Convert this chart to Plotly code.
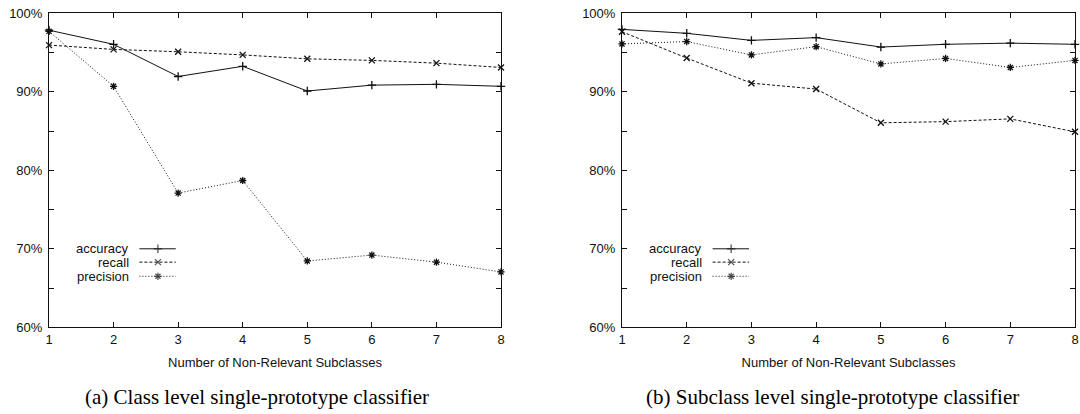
import plotly.graph_objects as go

# ---- data ----
x_subclasses = [1, 2, 3, 4, 5, 6, 7, 8]

class_accuracy = [97.85, 96.05, 91.95, 93.25, 90.1, 90.85, 90.95, 90.7]
class_recall = [95.95, 95.4, 95.1, 94.7, 94.2, 94.0, 93.65, 93.1]
class_precision = [97.7, 90.7, 77.1, 78.7, 68.45, 69.2, 68.3, 67.05]

sub_accuracy = [97.95, 97.45, 96.55, 96.9, 95.7, 96.05, 96.2, 96.05]
sub_recall = [97.65, 94.3, 91.1, 90.35, 86.05, 86.2, 86.55, 84.9]
sub_precision = [96.1, 96.4, 94.7, 95.75, 93.55, 94.25, 93.1, 94.0]

series_names = ["accuracy", "recall", "precision"]
y_tick_values = [60, 65, 70, 75, 80, 85, 90, 95, 100]
y_tick_labels = ["60%", "", "70%", "", "80%", "", "90%", "", "100%"]
x_title = "Number of Non-Relevant Subclasses"
captions = ["(a) Class level single-prototype classifier",
            "(b) Subclass level single-prototype classifier"]

# ---- styles ----
styles = {
    "accuracy": dict(dash="solid", symbol="cross-thin-open", size=6),
    "recall": dict(dash="3px,2px", symbol="x-thin-open", size=6),
    "precision": dict(dash="1px,2px", symbol="asterisk-open", size=6),
}
INK = "#111111"
SANS = "Liberation Sans, Arial, sans-serif"
SERIF = "Liberation Serif, Times New Roman, serif"

fig = go.Figure()

panels = [
    ("x", "y", [class_accuracy, class_recall, class_precision]),
    ("x2", "y2", [sub_accuracy, sub_recall, sub_precision]),
]
for xa, ya, vals in panels:
    for name, v in zip(series_names, vals):
        st = styles[name]
        fig.add_trace(go.Scatter(
            x=x_subclasses, y=v, name=name, mode="lines+markers",
            xaxis=xa, yaxis=ya, showlegend=False, cliponaxis=False,
            line=dict(color=INK, width=1, dash=st["dash"]),
            marker=dict(symbol=st["symbol"], size=st["size"], color=INK,
                        line=dict(color=INK, width=1.3)),
        ))

# ---- hand-made legend keys (text on the left, sample on the right) ----
leg_rows = [0.25, 0.2075, 0.1625]
leg_text_x = 0.181
leg_line = [0.2, 0.241, 0.2805]
for xa, ya in [("x3", "y3"), ("x4", "y4")]:
    for name, ry in zip(series_names, leg_rows):
        st = styles[name]
        fig.add_trace(go.Scatter(
            x=leg_line, y=[ry] * 3, mode="lines+markers", xaxis=xa, yaxis=ya,
            showlegend=False, hoverinfo="skip", cliponaxis=False,
            line=dict(color=INK, width=1, dash=st["dash"]),
            marker=dict(symbol=st["symbol"], size=[0, st["size"], 0], color=INK,
                        line=dict(color=INK, width=1.3)),
        ))

annotations = []
for xa, ya in [("x3", "y3"), ("x4", "y4")]:
    for name, ry in zip(series_names, leg_rows):
        annotations.append(dict(
            x=leg_text_x, y=ry, xref=xa, yref=ya, text=name, showarrow=False,
            xanchor="right", yanchor="middle",
            font=dict(family=SANS, size=13, color=INK)))

caption_x = [257 / 1080, 832 / 1080]
for cx, cap in zip(caption_x, captions):
    annotations.append(dict(
        x=cx, y=1 - 397 / 414, xref="paper", yref="paper", text=cap,
        showarrow=False, xanchor="center", yanchor="middle",
        font=dict(family=SERIF, size=21, color="black")))

x_domains = [[49 / 1080, 501 / 1080], [622 / 1080, 1075 / 1080]]
y_domain = [1 - 327.3 / 414, 1 - 13.3 / 414]


def xaxis_cfg(dom):
    return dict(
        domain=dom, range=[1, 8], tickvals=x_subclasses,
        ticks="inside", ticklen=5, tickwidth=1, tickcolor=INK,
        showline=True, linecolor=INK, linewidth=1, mirror="ticks",
        showgrid=False, zeroline=False, automargin=False,
        tickfont=dict(family=SANS, size=13, color=INK),
        title=dict(text=x_title, font=dict(family=SANS, size=13, color=INK),
                   standoff=11),
    )


def yaxis_cfg(anchor):
    return dict(
        domain=y_domain, range=[60, 100], tickvals=y_tick_values,
        ticktext=y_tick_labels, anchor=anchor,
        ticks="inside", ticklen=5, tickwidth=1, tickcolor=INK,
        showline=True, linecolor=INK, linewidth=1, mirror="ticks",
        showgrid=False, zeroline=False, automargin=False,
        ticklabelstandoff=3,
        tickfont=dict(family=SANS, size=13, color=INK),
    )


def overlay_x(over, anchor):
    return dict(overlaying=over, anchor=anchor, range=[0, 1], visible=False,
                fixedrange=True, showgrid=False, zeroline=False)


def overlay_y(over, anchor):
    return dict(overlaying=over, anchor=anchor, range=[0, 1], visible=False,
                fixedrange=True, showgrid=False, zeroline=False)


fig.update_layout(
    width=1080, height=414,
    margin=dict(l=0, r=0, t=0, b=0),
    paper_bgcolor="white", plot_bgcolor="white",
    showlegend=False,
    xaxis=dict(xaxis_cfg(x_domains[0]), anchor="y"),
    yaxis=yaxis_cfg("x"),
    xaxis2=dict(xaxis_cfg(x_domains[1]), anchor="y2"),
    yaxis2=yaxis_cfg("x2"),
    xaxis3=overlay_x("x", "y3"),
    yaxis3=overlay_y("y", "x3"),
    xaxis4=overlay_x("x2", "y4"),
    yaxis4=overlay_y("y2", "x4"),
    annotations=annotations,
)

fig.write_html("out.html")
